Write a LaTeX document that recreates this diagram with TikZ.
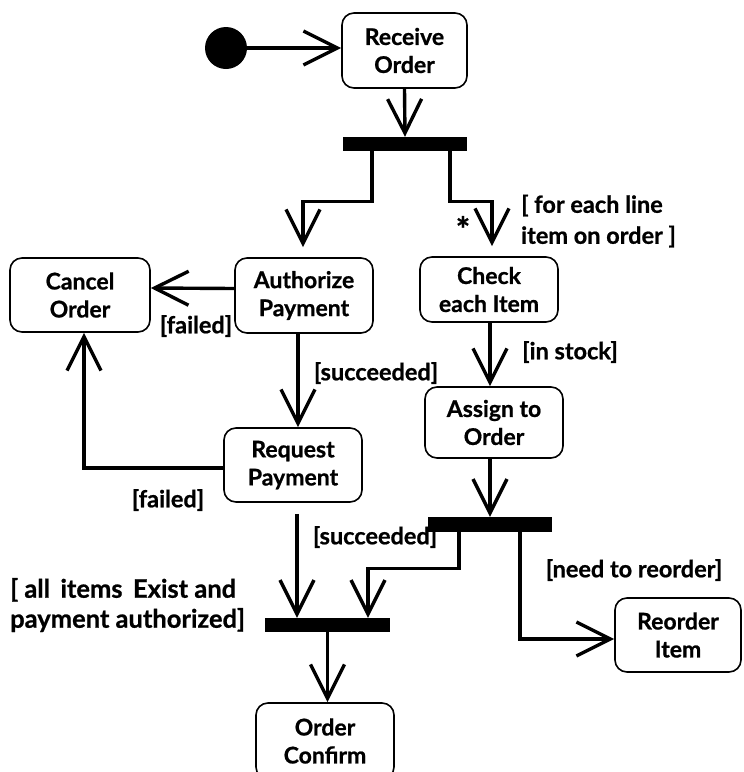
\documentclass[tikz,border=0pt]{standalone}
\usepackage{fontspec}
\setmainfont{Lato}[BoldFeatures={FakeBold=0.8}]
\usetikzlibrary{arrows.meta}
\tikzset{
  act/.style={draw, line width=1.6pt, rounded corners=12pt, align=center, inner sep=0pt,
    font=\bfseries\fontsize{23}{28}\selectfont},
  bar/.style={fill=black, draw=none, inner sep=0pt},
  flow/.style={line width=3.4pt, -{Straight Barb[length=34pt,width=34pt]}},
  lbl/.style={font=\bfseries\fontsize{23.5}{31}\selectfont, inner sep=0pt, align=left},
}
\begin{document}
\begin{tikzpicture}[x=1pt,y=-1pt]
\useasboundingbox (0,0) rectangle (744,772);
\clip (0,0) rectangle (744,772);
% initial node
\node[circle, fill=black, minimum size=42pt, inner sep=0pt] (init) at (226,48) {};
% activities
\node[act, minimum width=125pt, minimum height=75pt] (recv) at (404.5,50.5) {Receive\\Order};
\node[act, minimum width=138pt, minimum height=75pt] (auth) at (304,295.5) {Authorize\\Payment};
\node[act, minimum width=140pt, minimum height=74pt] (cancel) at (80,295) {Cancel\\Order};
\node[act, minimum width=138pt, minimum height=65pt] (check) at (489,289.5) {Check\\each Item};
\node[act, minimum width=138pt, minimum height=71pt] (assign) at (494,422.5) {Assign to\\Order};
\node[act, minimum width=138pt, minimum height=74pt] (reqpay) at (293,465) {Request\\Payment};
\node[act, minimum width=126pt, minimum height=74pt] (reorder) at (678,635) {Reorder\\Item};
\node[act, minimum width=138pt, minimum height=76pt] (confirm) at (325,741) {Order\\Confirm};
% bars
\node[bar, minimum width=124pt, minimum height=14pt] (bar1) at (405,144) {};
\node[bar, minimum width=124pt, minimum height=15pt] (bar3) at (490,524.5) {};
\node[bar, minimum width=125pt, minimum height=14pt] (bar2) at (327.5,625) {};
% connectors
\draw[flow] (init.east) -- (recv.west |- init);
\draw[flow] (recv.south) -- (bar1.north);
\draw[flow, shorten >=10pt] ([xshift=-33pt]bar1.south) -- ++(0,50) -| ([xshift=-1pt]auth.north);
\draw[flow, shorten >=10pt] ([xshift=45pt]bar1.south) -- ++(0,50) -| ([xshift=3pt]check.north);
\draw[flow] ([yshift=7pt]auth.west) -- ([yshift=7pt]cancel.east);
\draw[flow] ([xshift=-6pt]auth.south) -- ([xshift=5pt]reqpay.north);
\draw[flow] ([yshift=-3pt]reqpay.west) -| ([xshift=4pt]cancel.south);
\draw[flow] ([xshift=1pt]check.south) -- ([xshift=-4pt]assign.north);
\draw[flow] ([xshift=-4pt]assign.south) -- (bar3.north);
\draw[flow] ([xshift=-31pt]bar3.south) -- ++(0,36) -| ([xshift=40.5pt]bar2.north);
\draw[flow] ([xshift=30pt]bar3.south) |- ([yshift=-4pt]reorder.west);
\draw[flow, shorten <=11pt] ([xshift=4pt]reqpay.south) -- ([xshift=-30.5pt]bar2.north);
\draw[flow] (bar2.south) -- (bar2.south |- confirm.north);
% labels
\node[lbl] (l1) at (196,326) {[failed]};
\node[lbl] (l2) at (376,373) {[succeeded]};
\node[lbl] (l3) at (168,500) {[failed]};
\node[lbl, font=\bfseries\fontsize{34}{34}\selectfont] (l4) at (463,229) {*};
\node[lbl, anchor=west] (l5) at (521,221) {[ for each line\\item on order ]};
\node[lbl] (l6) at (570,352) {[in stock]};
\node[lbl] (l7) at (375,537) {[succeeded]};
\node[lbl] (l8) at (634,570) {[need to reorder]};
\node[lbl, anchor=west, font=\bfseries\fontsize{25.5}{30}\selectfont] (l9) at (10,605) {[ all\, items\, Exist and\\payment authorized]};
\end{tikzpicture}
\end{document}
